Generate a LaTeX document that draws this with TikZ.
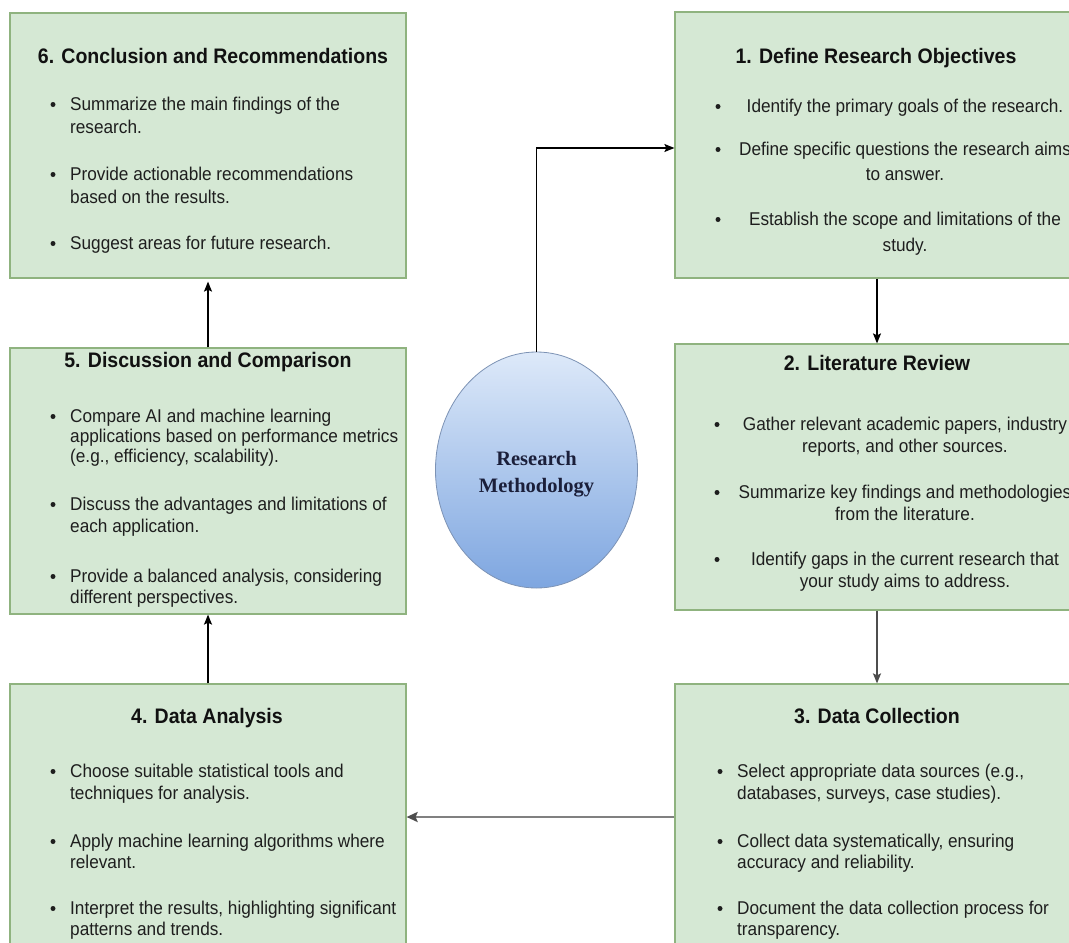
\documentclass[tikz,border=0pt]{standalone}
\usepackage{fontspec}
\setmainfont{Liberation Sans}[FakeStretch=0.93]
\newfontfamily\rmserif{Liberation Serif}
\usetikzlibrary{shapes.geometric,arrows.meta}
\definecolor{boxfill}{HTML}{D5E8D4}
\definecolor{boxline}{HTML}{8FB37F}
\definecolor{elltop}{HTML}{DDE9F9}
\definecolor{ellbot}{HTML}{7EA6E0}
\definecolor{elline}{HTML}{7D93B5}
\definecolor{txtcol}{HTML}{1E1E1E}
\definecolor{ttlcol}{HTML}{111111}
\definecolor{ellcol}{HTML}{1B1F3A}
\definecolor{grayline}{HTML}{808080}
\definecolor{darkline}{HTML}{4D4D4D}
\tikzset{
  box/.style={draw=boxline, fill=boxfill, line width=1.2pt, rectangle, inner sep=0pt},
  ttl/.style={font=\fontsize{21}{25}\selectfont\bfseries, text=ttlcol, inner sep=0pt, anchor=base},
  txt/.style={font=\fontsize{18.5}{22}\selectfont, text=txtcol, inner sep=0pt},
  bdot/.style={circle, fill=txtcol, inner sep=0pt, minimum size=5pt},
  ell/.style={ellipse, draw=elline, line width=0.8pt, top color=elltop, bottom color=ellbot,
    inner sep=0pt},
  elltext/.style={align=center, text=ellcol, inner sep=0pt,
    font=\rmserif\bfseries\fontsize{20.5}{27}\selectfont},
  conn/.style={line width=1.4pt, -{Stealth[length=10pt,width=8pt,inset=2pt]}},
  conngray/.style={line width=2.6pt, draw=grayline, -{Stealth[length=11pt,width=10pt,inset=2pt,color=darkline]}},
  conndark/.style={line width=1.6pt, draw=darkline, -{Stealth[length=10pt,width=8pt,inset=2pt]}},
}
\newcommand\ltxt[4]{\node[txt,anchor=base west] (#1) at (#2,#3) {#4};}
\newcommand\ctxt[4]{\node[txt,anchor=base] (#1) at (#2,#3) {#4};}
\newcommand\bdotat[3]{\node[bdot] (#1) at (#2,#3) {};}
\begin{document}
\begin{tikzpicture}[x=1pt,y=-1pt]
\fill[white] (0,0) rectangle (1069,943);
\useasboundingbox (0,0) rectangle (1069,943);

% boxes
\node[box, minimum width=396pt, minimum height=265pt] (b6) at (208,145.5) {};
\node[box, minimum width=396pt, minimum height=266pt] (b5) at (208,481) {};
\node[box, minimum width=396pt, minimum height=266pt] (b4) at (208,817) {};
\node[box, minimum width=404pt, minimum height=266pt] (b1) at (877,145) {};
\node[box, minimum width=404pt, minimum height=266pt] (b2) at (877,477) {};
\node[box, minimum width=404pt, minimum height=266pt] (b3) at (877,817) {};

% centre ellipse
\node[ell, minimum width=202pt, minimum height=236pt] (rm) at (536.5,470) {};
\node[elltext] (rmtext) at (536.5,474) {Research\\Methodology};

% connectors
\draw[conn] (rm.north) |- ([yshift=-3pt]b1.west);
\draw[conn] (b1.south) -- (b2.north);
\draw[conndark] (b2.south) -- (b3.north);
\draw[conngray] (b3.west) -- (b4.east);
\draw[conn] (b4.north) -- (b5.south);
\draw[conn] (b5.north) -- ([yshift=-3pt]b6.south);

% box 6
\node[ttl] (t6) at (213,63) {6. Conclusion and Recommendations};
\bdotat{d6a}{53}{104.5}\ltxt{l6a}{70}{110}{Summarize the main findings of the}
\ltxt{l6b}{70}{133}{research.}
\bdotat{d6b}{53}{174.5}\ltxt{l6c}{70}{180}{Provide actionable recommendations}
\ltxt{l6d}{70}{203}{based on the results.}
\bdotat{d6c}{53}{243.5}\ltxt{l6e}{70}{249}{Suggest areas for future research.}

% box 5
\node[ttl] (t5) at (208,367) {5. Discussion and Comparison};
\bdotat{d5a}{53}{416.5}\ltxt{l5a}{70}{422}{Compare AI and machine learning}
\ltxt{l5b}{70}{442}{applications based on performance metrics}
\ltxt{l5c}{70}{462}{(e.g., efficiency, scalability).}
\bdotat{d5b}{53}{504.5}\ltxt{l5d}{70}{510}{Discuss the advantages and limitations of}
\ltxt{l5e}{70}{532}{each application.}
\bdotat{d5c}{53}{576.5}\ltxt{l5f}{70}{582}{Provide a balanced analysis, considering}
\ltxt{l5g}{70}{603}{different perspectives.}

% box 4
\node[ttl] (t4) at (207,723) {4. Data Analysis};
\bdotat{d4a}{53}{771.5}\ltxt{l4a}{70}{777}{Choose suitable statistical tools and}
\ltxt{l4b}{70}{799}{techniques for analysis.}
\bdotat{d4b}{53}{841.5}\ltxt{l4c}{70}{847}{Apply machine learning algorithms where}
\ltxt{l4d}{70}{868}{relevant.}
\bdotat{d4c}{53}{908.5}\ltxt{l4e}{70}{914}{Interpret the results, highlighting significant}
\ltxt{l4f}{70}{935}{patterns and trends.}

% box 1
\node[ttl] (t1) at (876,63) {1. Define Research Objectives};
\bdotat{d1a}{718}{106.5}\ctxt{l1a}{905}{112}{Identify the primary goals of the research.}
\bdotat{d1b}{718}{149.5}\ctxt{l1b}{905}{155}{Define specific questions the research aims}
\ctxt{l1c}{905}{180}{to answer.}
\bdotat{d1c}{718}{219.5}\ctxt{l1d}{905}{225}{Establish the scope and limitations of the}
\ctxt{l1e}{905}{251}{study.}

% box 2
\node[ttl] (t2) at (877,370) {2. Literature Review};
\bdotat{d2a}{717}{424.5}\ctxt{l2a}{905}{430}{Gather relevant academic papers, industry}
\ctxt{l2b}{905}{452}{reports, and other sources.}
\bdotat{d2b}{717}{492.5}\ctxt{l2c}{905}{498}{Summarize key findings and methodologies}
\ctxt{l2d}{905}{520}{from the literature.}
\bdotat{d2c}{717}{559.5}\ctxt{l2e}{905}{565}{Identify gaps in the current research that}
\ctxt{l2f}{905}{587}{your study aims to address.}

% box 3
\node[ttl] (t3) at (877,723) {3. Data Collection};
\bdotat{d3a}{720}{771.5}\ltxt{l3a}{737}{777}{Select appropriate data sources (e.g.,}
\ltxt{l3b}{737}{799}{databases, surveys, case studies).}
\bdotat{d3b}{720}{841.5}\ltxt{l3c}{737}{847}{Collect data systematically, ensuring}
\ltxt{l3d}{737}{868}{accuracy and reliability.}
\bdotat{d3c}{720}{908.5}\ltxt{l3e}{737}{914}{Document the data collection process for}
\ltxt{l3f}{737}{935}{transparency.}
\end{tikzpicture}
\end{document}
